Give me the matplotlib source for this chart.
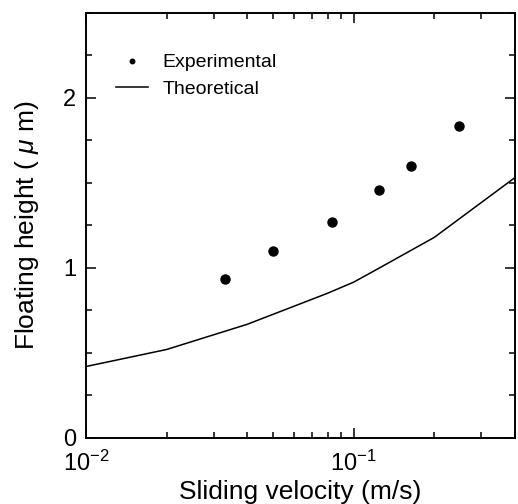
import matplotlib
matplotlib.use("Agg")
import matplotlib.pyplot as plt
from matplotlib.lines import Line2D
from matplotlib.ticker import MultipleLocator, LogLocator, NullFormatter

plt.rcParams["font.family"] = ["Liberation Sans", "DejaVu Sans"]
plt.rcParams["mathtext.fontset"] = "custom"
plt.rcParams["mathtext.rm"] = "Liberation Sans"
plt.rcParams["mathtext.it"] = "Liberation Sans:italic"

# 实验值
exp_velocity = [0.033, 0.05, 0.083, 0.124, 0.164, 0.247]
exp_height = [0.936, 1.101, 1.271, 1.457, 1.598, 1.834]

# 理论曲线
theo_velocity = [0.01, 0.02, 0.04, 0.08, 0.1, 0.125, 0.2, 0.4]
theo_height = [0.42, 0.52, 0.668, 0.851, 0.916, 1.0, 1.179, 1.53]

fig = plt.figure(figsize=(5.18, 5.04), dpi=100)
ax = fig.add_axes([0.166, 0.131, 0.828, 0.844])

ax.plot(exp_velocity, exp_height, ls="none", marker="o", ms=6.5, color="black")
ax.plot(theo_velocity, theo_height, color="black", lw=1.1)

ax.set_xscale("log")
ax.set_xlim(0.01, 0.4)
ax.set_ylim(0, 2.5)

ax.yaxis.set_major_locator(MultipleLocator(1))
ax.yaxis.set_minor_locator(MultipleLocator(0.25))
ax.xaxis.set_minor_locator(LogLocator(base=10, subs=range(2, 10)))
ax.xaxis.set_minor_formatter(NullFormatter())

ax.tick_params(which="both", direction="in", top=True, right=True, width=1.1, labelsize=17)
ax.tick_params(which="major", length=7)
ax.tick_params(which="minor", length=4.5)
ax.tick_params(axis="y", pad=7)
ax.tick_params(axis="x", pad=9)
for s in ax.spines.values():
    s.set_linewidth(1.4)

ax.set_xlabel("Sliding velocity (m/s)", fontsize=19, labelpad=3)
ax.set_ylabel(r"Floating height ( $\mu$ m)", fontsize=19, labelpad=16)

handles = [
    Line2D([], [], ls="none", marker="o", ms=3.2, color="black"),
    Line2D([], [], color="black", lw=1.1),
]
ax.legend(handles, ["Experimental", "Theoretical"], loc="upper left",
          bbox_to_anchor=(0.07, 0.903), borderaxespad=0, borderpad=0,
          frameon=False, fontsize=14, handlelength=1.65, handletextpad=0.75,
          labelspacing=0.45)

fig.savefig("out.png", dpi=100)
plt.close(fig)
